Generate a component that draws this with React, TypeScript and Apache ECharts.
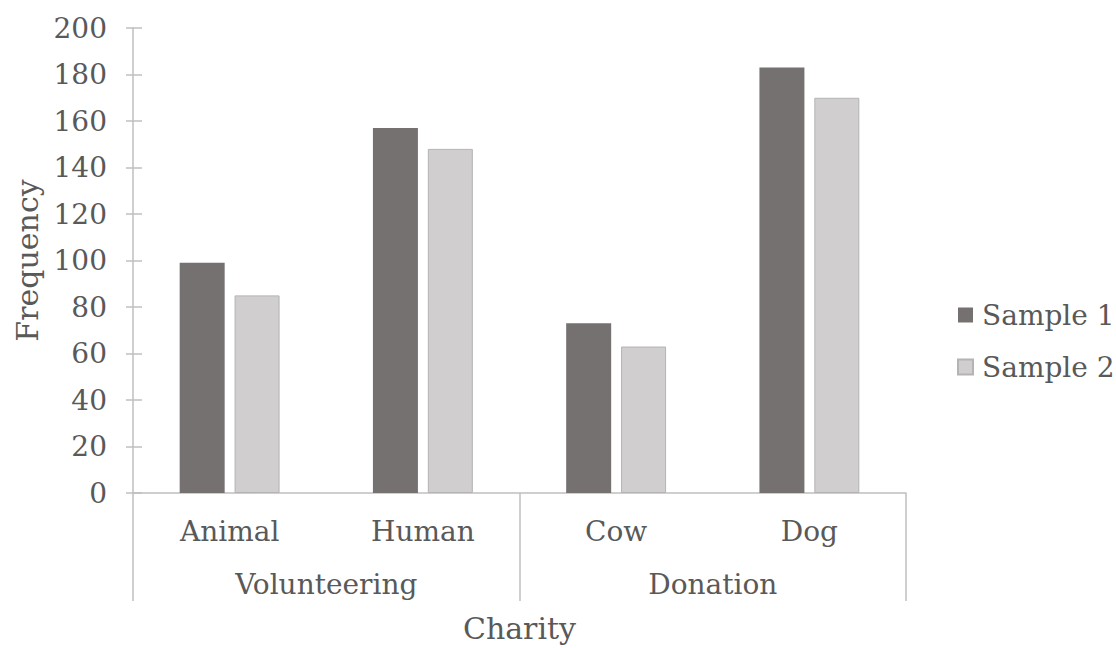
import React, { useEffect, useRef } from "react";
import * as echarts from "echarts";

const categories = ["Animal", "Human", "Cow", "Dog"];
const groups = ["Volunteering", "Donation"];
const sample1 = [99, 157, 73, 183];
const sample2 = [85, 148, 63, 170];
const yTicks = { min: 0, max: 200, interval: 20 };

const FONT = "DejaVu Serif";
const TXT = "#595959";
const AX = "#bfbfbf";

export default function App() {
  const ref = useRef<HTMLDivElement>(null);
  useEffect(() => {
    const chart = echarts.init(ref.current!, null, { renderer: "svg" });
    chart.setOption({
      animation: false,
      backgroundColor: "#ffffff",
      textStyle: { fontFamily: FONT, color: TXT },
      grid: { left: 133, right: 210, top: 28, bottom: 149, containLabel: false },
      legend: {
        orient: "vertical",
        left: 957,
        top: 300,
        padding: 0,
        itemWidth: 15,
        itemHeight: 15,
        itemGap: 22,
        icon: "rect",
        textStyle: { fontFamily: FONT, fontSize: 28, color: TXT, lineHeight: 30, padding: [0, 0, 0, 4] },
        data: ["Sample 1", "Sample 2"],
      },
      xAxis: [
        {
          type: "category",
          data: categories,
          position: "bottom",
          axisLine: { show: true, lineStyle: { color: AX, width: 1.5 } },
          axisTick: { show: false },
          axisLabel: { fontFamily: FONT, fontSize: 28, color: TXT, margin: 24 },
          name: "Charity",
          nameLocation: "middle",
          nameGap: 120,
          nameTextStyle: { fontFamily: FONT, fontSize: 30, color: TXT },
        },
        {
          type: "category",
          data: groups,
          position: "bottom",
          axisLine: { show: false },
          axisTick: { show: true, length: 108, lineStyle: { color: AX, width: 1.5 } },
          axisLabel: { fontFamily: FONT, fontSize: 28, color: TXT, margin: 77 },
        },
      ],
      yAxis: [
        {
          type: "value",
          ...yTicks,
          splitLine: { show: false },
          axisLine: { show: true, lineStyle: { color: AX, width: 1.5 } },
          axisTick: { show: true, length: 7, lineStyle: { color: AX, width: 1.5 } },
          axisLabel: { fontFamily: FONT, fontSize: 28, color: TXT, margin: 26 },
          name: "Frequency",
          nameLocation: "middle",
          nameGap: 91,
          nameRotate: 90,
          nameTextStyle: { fontFamily: FONT, fontSize: 30, color: TXT },
        },
        {
          type: "value",
          ...yTicks,
          position: "left",
          splitLine: { show: false },
          axisLine: { show: false },
          axisTick: { show: true, inside: true, length: 9, lineStyle: { color: AX, width: 1.5 } },
          axisLabel: { show: false },
        },
      ],
      series: [
        {
          name: "Sample 1",
          type: "bar",
          data: sample1,
          barWidth: 45,
          barGap: "22%",
          itemStyle: { color: "#767171" },
        },
        {
          name: "Sample 2",
          type: "bar",
          data: sample2,
          barWidth: 45,
          itemStyle: { color: "#d0cece", borderColor: "#b4b4b4", borderWidth: 1 },
        },
      ],
    });
    return () => chart.dispose();
  }, []);
  return (
    <div
      ref={ref}
      style={{ position: "fixed", left: 0, top: 0, width: 1116, height: 648 }}
    />
  );
}
